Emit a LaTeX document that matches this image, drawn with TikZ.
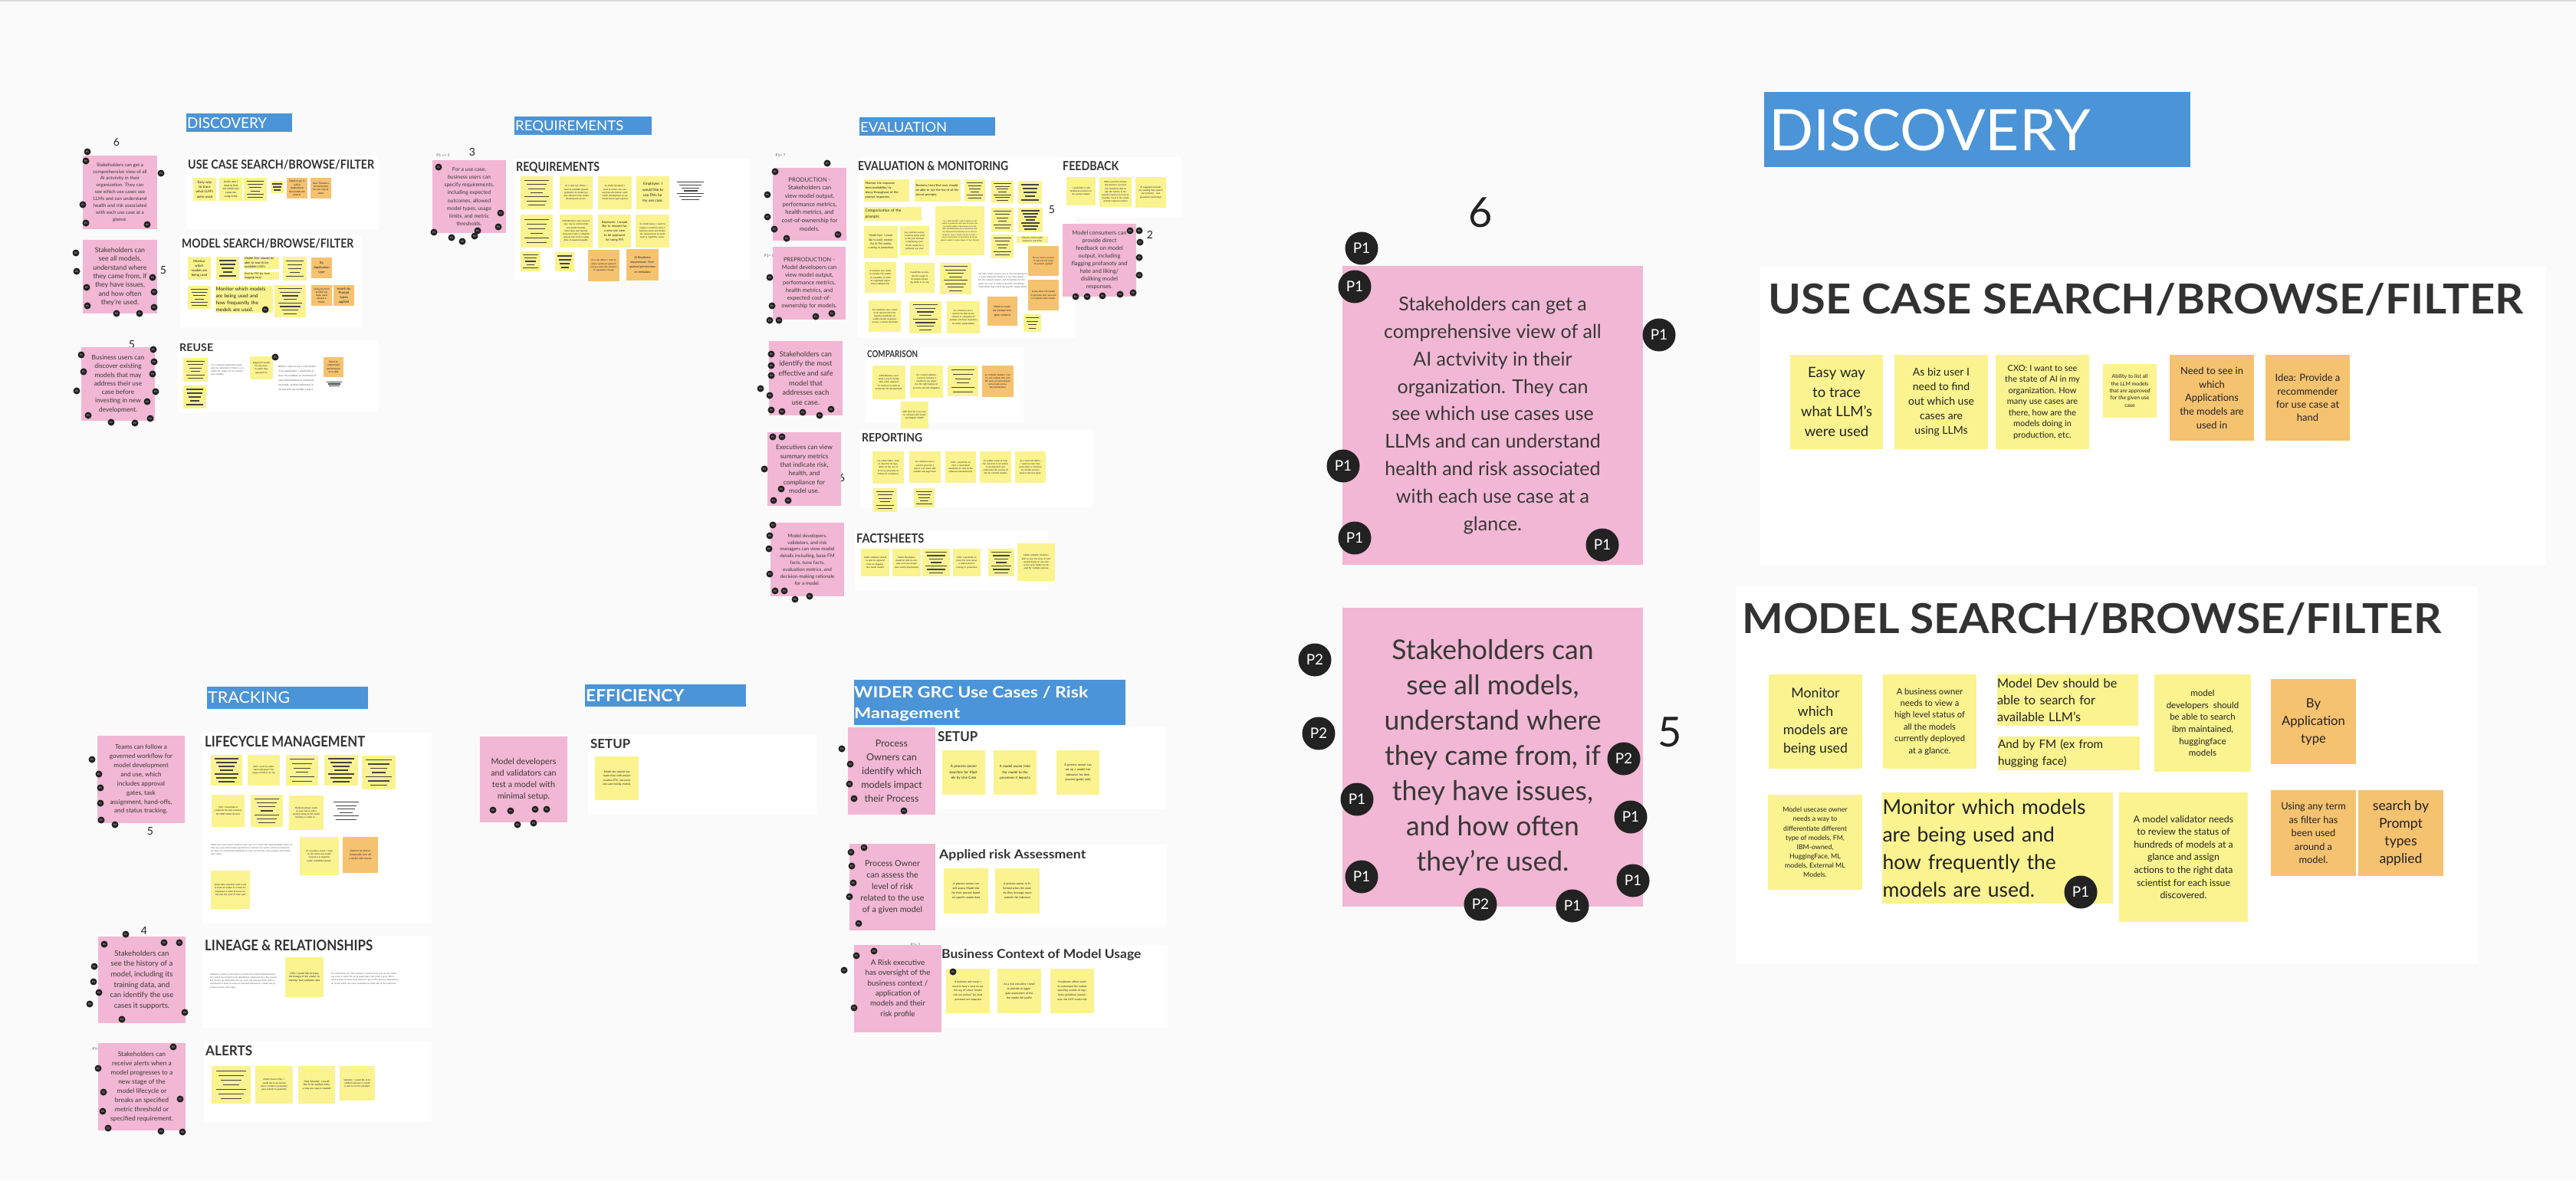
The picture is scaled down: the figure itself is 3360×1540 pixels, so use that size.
\documentclass[tikz,border=0pt]{standalone}
\usepackage{fontspec}
\setmainfont{Lato}
\usepackage{graphicx}

\definecolor{board}{RGB}{250,250,250}
\definecolor{hdrblue}{RGB}{75,148,215}
\definecolor{pinknote}{RGB}{242,183,212}
\definecolor{yelnote}{RGB}{250,243,143}
\definecolor{orgnote}{RGB}{245,194,112}
\definecolor{inkdark}{RGB}{34,34,34}
\definecolor{ttlgray}{RGB}{50,50,50}

\newcommand{\fsz}[2]{\fontsize{#1}{#2}\selectfont}
\newcommand{\ttlbox}[3]{\resizebox{#1pt}{#2pt}{#3}}
% sticky: options, name, x1, y1, x2, y2, text
\newcommand{\stick}[7][stickyY]{%
  \node[minimum width={#5-#3}, minimum height={#6-#4},
        text width={(#5-#3)*0.84}, #1] (#2) at ({(#3+#5)/2},{(#4+#6)/2}) {#7};}
% sticky whose text is only shown as bars
\newcommand{\barnote}[6][stickyY]{%
  \path[#1] (#2,#3) rectangle (#4,#5);
  \foreach \k in {1,...,#6}{%
    \pgfmathsetmacro{\yy}{#3+(#5-#3)*\k/(#6+1)}%
    \pgfmathsetmacro{\ww}{(#4-#2)*(0.2+0.06*mod(\k*3,4))}%
    \draw[barline] ({(#2+#4)/2-\ww},\yy) -- ({(#2+#4)/2+\ww},\yy);}}

\begin{document}
\begin{tikzpicture}[x=1pt,y=-1pt,
  panel/.style={fill=white},
  hdr/.style={fill=hdrblue},
  hdrtxt/.style={anchor=north west,inner sep=0,text=white},
  ttl/.style={anchor=north west,inner sep=0,text=ttlgray},
  nowrap/.style={text width={}},
  pinkN/.style={fill=pinknote,inner sep=0,align=center,text=inkdark!90,nowrap},
  stickyY/.style={fill=yelnote,inner sep=0,align=center,text=inkdark,font=\fsz{2.8}{4.2}},
  stickyO/.style={fill=orgnote,inner sep=0,align=center,text=inkdark,font=\fsz{2.8}{4.2}},
  plainblk/.style={inner sep=0,text=inkdark!75,font=\fsz{2.8}{4.2}},
  barline/.style={line width=1.1,draw=inkdark!85},
  dotL/.style={circle,fill=inkdark,text=white,minimum size=43,inner sep=0,font=\fsz{19}{19}},
  dotS/.style={circle,fill=inkdark,text=white,minimum size=9,inner sep=0,font=\fsz{3}{3}},
  num/.style={inner sep=0,text=inkdark,font=\fsz{14}{14}},
  tag/.style={inner sep=0,text=inkdark!70,font=\fsz{5}{5}}]

\useasboundingbox (0,0) rectangle (3360,1540);
\fill[board] (0,0) rectangle (3360,1540);
\fill[black!14] (0,0) rectangle (3360,2);

%%% ---------- overview: DISCOVERY
\fill[hdr] (243,148) rectangle (381,172);
\node[hdrtxt] (hDisc) at (244,153) {\ttlbox{104}{14}{DISCOVERY}};
\node[num] (nDisc6) at (152,186) {6};
\node[num] (nDisc5) at (213,353) {5};
\node[num] (nReuse5) at (172,450) {5};

\fill[panel] (243,203) rectangle (494,299);
\fill[panel] (235,307) rectangle (472,427);
\fill[panel] (232,443) rectangle (494,538);
\node[ttl] (tUcS) at (245,208) {\ttlbox{243}{12}{\bfseries USE CASE SEARCH/BROWSE/FILTER}};
\node[ttl] (tMsS) at (237,311) {\ttlbox{224}{12}{\bfseries MODEL SEARCH/BROWSE/FILTER}};
\node[ttl] (tReuse) at (234,448) {\ttlbox{44}{10}{\bfseries REUSE}};

\stick[pinkN,font=\fsz{6.2}{8.9}]{ovDisc}{108}{203}{205}{299}{Stakeholders can get a\\ comprehensive view of all\\ AI actvivity in their\\ organization. They can\\ see which use cases use\\ LLMs and can understand\\ health and risk associated\\ with each use case at a\\ glance.}
\stick[pinkN,font=\fsz{8.8}{11.3}]{ovModels}{108}{313}{205}{409}{Stakeholders can\\ see all models,\\ understand where\\ they came from, if\\ they have issues,\\ and how often\\ they're used.}
\stick[pinkN,font=\fsz{8.4}{11.3}]{ovReuse}{106}{453}{202}{549}{Business users can\\ discover existing\\ models that may\\ address their use\\ case before\\ investing in new\\ development.}

\stick[stickyY,nowrap,font=\fsz{4.5}{6.3}]{ovEasy}{252}{232}{282}{262}{Easy way\\ to trace\\ what LLM's\\ were used}
\stick[stickyY,nowrap,font=\fsz{3.4}{4.7}]{ovBiz}{286}{232}{316}{262}{As biz user I\\ need to find\\ out which use\\ cases are\\ using LLMs}
\barnote{318}{232}{348}{262}{6}
\barnote{353}{236}{370}{252}{3}
\stick[stickyO,nowrap,font=\fsz{3.2}{4.4}]{ovApps}{374}{232}{401}{259}{Need to see in\\ which\\ Applications\\ the models are\\ used in}
\stick[stickyO,nowrap,font=\fsz{3.2}{4.3}]{ovIdea}{405}{232}{432}{259}{Idea: Provide a\\ recommender\\ for use case at\\ hand}

\stick[stickyY,nowrap,font=\fsz{4.3}{5.9}]{ovMon}{245}{335}{275}{365}{Monitor\\ which\\ models are\\ being used}
\barnote{282}{335}{312}{365}{5}
\stick[stickyY,font=\fsz{4}{5.5},align=left,text width=44]{ovDev}{318}{335}{364}{351}{Model Dev should be\\ able to search for\\ available LLM's}
\stick[stickyY,font=\fsz{3.7}{5.5},align=left,text width=44]{ovFM}{318}{355}{364}{365}{And by FM (ex from\\ hugging face)}
\barnote{369}{335}{400}{366}{5}
\stick[stickyO,nowrap,font=\fsz{4.1}{5.7}]{ovApp}{406}{336}{433}{363}{By\\ Application\\ type}
\barnote{245}{373}{275}{403}{6}
\stick[stickyY,font=\fsz{6.5}{8.8},align=left,text width=74]{ovFreq}{281}{373}{356}{408}{Monitor which models\\ are being used and\\ how frequently the\\ models are used.}
\barnote{358}{372}{399}{414}{8}
\stick[stickyO,nowrap,font=\fsz{3.1}{4.3}]{ovTerm}{406}{372}{433}{399}{Using any term\\ as filter has\\ been used\\ around a\\ model.}
\stick[stickyO,nowrap,font=\fsz{4.3}{5.7}]{ovPrompt}{435}{372}{462}{399}{search by\\ Prompt\\ types\\ applied}

\barnote{239}{467}{271}{498}{6}
\barnote{239}{503}{269}{533}{5}
\stick[plainblk,align=left,text width=45]{ovReuseTxt}{275}{465}{320}{500}{I as a business application owner want to understand if there is a re-usable ML model for my business area available.}
\stick[stickyY]{ovSugg}{326}{465}{356}{495}{Suggested models for the users, in which they approved for}
\stick[plainblk,font=\fsz{3.2}{6},align=left,text width=50]{ovFeedTxt}{363}{464}{413}{523}{Before I start to use a LLM model in my application, I would like to view the feedback or sentiment of users (documented as comments on model/ prompt responses) in my org who are already using it}
\stick[stickyO,font=\fsz{3.2}{4.4}]{ovPerf}{422}{466}{448}{492}{Need to understand performance of a LLM}
\barnote[plainblk]{423}{496}{449}{506}{3}

\foreach \x/\y/\t [count=\i] in {114/198/P1,112/210/P1,210/226/P1,108/267/P1,112/291/P1,192/293/P1,
  99/330/P2,100/354/P2,199/362/P2,113/375/P1,201/381/P1,114/399/P1,201/401/P1,152/409/P2,182/409/P1,346/404/P1,
  200/456/P1,106/463/P1,201/472/P1,109/485/P1,199/488/P2,100/510/P2,203/511/P2,192/524/P2,115/542/P1,
  145/551/P1,176/552/P2,196/546/P2,359/466/P1}
  \node[dotS] (dDisc\i) at (\x,\y) {\t};

%%% ---------- overview: REQUIREMENTS
\fill[hdr] (671,152) rectangle (850,176);
\node[hdrtxt] (hReq) at (672,157) {\ttlbox{141}{13}{REQUIREMENTS}};
\node[num] (nReq3) at (616,198) {3};
\node[tag] (gReq) at (578,203) {P1 += 3};
\fill[panel] (671,207) rectangle (977,365);
\node[ttl] (tReq) at (673,211) {\ttlbox{109}{12}{\bfseries REQUIREMENTS}};
\stick[pinkN,font=\fsz{6.9}{10.1}]{reqPink}{564}{209}{660}{304}{For a use case,\\ business users can\\ specify requirements,\\ including expected\\ outcomes, allowed\\ model types, usage\\ limits, and metric\\ thresholds.}
\barnote{679}{230}{721}{273}{7}
\stick{reqCro}{730}{230}{773}{273}{As a chief risk officer, I want to establish general guidelines for model use that influence how model development occurs.}
\stick{reqDev}{780}{230}{824}{273}{As model developer I need to review use case requirements before I start model development so my model doesn't get rejected}
\stick[stickyY,nowrap,font=\fsz{4.8}{7.4}]{reqEmp}{830}{230}{873}{273}{Employee: I\\ would like to\\ use FMs for\\ my use case.}
\barnote[plainblk]{878}{234}{923}{264}{7}
\barnote{679}{280}{721}{323}{6}
\stick{reqCxo}{730}{280}{773}{323}{CXO/Business users need an easy way to communicate new model development tasks and improve turnaround with a validation process that work is being done to expected quality.}
\stick[stickyY,font=\fsz{4}{5.8}]{reqNew}{780}{280}{823}{323}{Employee: I would like to request for a new use case to be approved for using FM}
\stick{reqOwn}{829}{280}{873}{323}{As model owner, I want to request a model to solve a business needs and dictate the requirements to avoid legal or regulatory issues.}
\barnote{679}{328}{705}{354}{5}
\barnote{724}{329}{749}{354}{4}
\stick[stickyO]{reqRisk}{767}{326}{808}{367}{As a risk officer, I need to assess quickly to approval process when the situation or regulations change.}
\stick[stickyO,font=\fsz{3.8}{6.2}]{reqReady}{817}{325}{859}{366}{AI Readiness requirement: Fine-grained permissions on metadata}
\foreach \x/\y/\t [count=\i] in {572/218/P1,653/278/P2,650/296/P2,566/303/P1,589/310/P2,603/315/P2,619/308/P2,623/301/P1}
  \node[dotS] (dReq\i) at (\x,\y) {\t};

%%% ---------- overview: EVALUATION
\fill[hdr] (1121,153) rectangle (1298,177);
\node[hdrtxt] (hEval) at (1122,159) {\ttlbox{113}{13}{EVALUATION}};
\fill[panel] (1118,206) rectangle (1402,441);
\fill[panel] (1383,205) rectangle (1542,284);
\fill[panel] (1129,453) rectangle (1335,551);
\fill[panel] (1122,561) rectangle (1425,662);
\fill[panel] (1115,692) rectangle (1367,770);
\node[ttl] (tEm) at (1119,210) {\ttlbox{196}{12}{\bfseries EVALUATION \& MONITORING}};
\node[ttl] (tFb) at (1386,210) {\ttlbox{73}{12}{\bfseries FEEDBACK}};
\node[ttl] (tCmp) at (1131,457) {\ttlbox{66}{9}{\bfseries COMPARISON}};
\node[ttl] (tRep) at (1124,565) {\ttlbox{79}{11}{\bfseries REPORTING}};
\node[ttl] (tFs) at (1117,696) {\ttlbox{88}{12}{\bfseries FACTSHEETS}};

\node[tag] (gProd) at (1018,203) {P1= 7};
\node[tag] (gPre) at (1003,334) {P1= 6};
\node[tag] (gFb) at (1451,295) {P1= 2};
\node[tag] (gCmp) at (1088,448) {P1= 5};
\node[tag] (gFs) at (1093,687) {P1= 7};
\node[num] (nEm5) at (1372,274) {5};
\node[num] (nFb2) at (1500,306) {2};
\node[num] (nRep6) at (1098,624) {6};

\stick[pinkN,font=\fsz{7.6}{10.7}]{evProd}{1008}{219}{1104}{314}{PRODUCTION -\\ Stakeholders can\\ view model output,\\ performance metrics,\\ health metrics, and\\ cost-of-ownership for\\ models.}
\stick[pinkN,font=\fsz{7.4}{10}]{evPre}{1008}{322}{1103}{417}{PREPRODUCTION -\\ Model developers can\\ view model output,\\ performance metrics,\\ health metrics, and\\ expected cost-of-\\ ownership for models.}
\stick[pinkN,font=\fsz{7.4}{10.1}]{fbPink}{1386}{292}{1482}{387}{Model consumers can\\ provide direct\\ feedback on model\\ output, including\\ flagging profanoty and\\ hate and liking/\\ disliking model\\ responses.}
\stick[pinkN,font=\fsz{9.2}{12.6}]{cmpPink}{1003}{445}{1099}{542}{Stakeholders can\\ identify the most\\ effective and safe\\ model that\\ addresses each\\ use case.}
\stick[pinkN,font=\fsz{8.4}{11.3}]{repPink}{1001}{564}{1097}{660}{Executives can view\\ summary metrics\\ that indicate risk,\\ health, and\\ compliance for\\ model use.}
\stick[pinkN,font=\fsz{6.3}{8.9}]{fsPink}{1005}{682}{1101}{778}{Model developers,\\ validators, and risk\\ managers can view model\\ details including, base FM\\ facts, tune facts,\\ evaluation metrics, and\\ decision-making rationale\\ for a model.}

\stick[stickyY,font=\fsz{4}{5.8},align=left,text width=56]{emResp}{1127}{234}{1186}{263}{Monitor the response time/availability/ latency/throughput of the prompt responses.}
\stick[stickyY,font=\fsz{4}{5.8},align=left,text width=57]{emHist}{1193}{234}{1253}{263}{Business User/End user should be able to see the list of all historical prompts.}
\barnote{1258}{234}{1285}{263}{6}
\barnote{1293}{236}{1322}{265}{7}
\barnote{1328}{236}{1359}{266}{5}
\stick[stickyY,font=\fsz{5}{7.5},align=left,text width=72]{emCat}{1127}{270}{1202}{288}{Categorisation of the\\ prompts}
\stick[stickyY,font=\fsz{2.3}{3.6}]{emDs}{1220}{269}{1284}{333}{I as a Data Scientist, need to deploy an ML model to production and need to ensure that the model quality is maintained across the DEV-QA-PROD lifecycle as mentioned with the deployed AI horizontally across all environments. Since I need to do this at scale - I need a central place to benchmark all my deployed models at various stages of their lifecycle}
\barnote{1293}{271}{1322}{302}{6}
\barnote{1328}{271}{1360}{303}{7}
\stick[stickyY,font=\fsz{3.4}{5.3}]{emOps}{1127}{295}{1171}{337}{Model Ops: I would like to easily monitor the AI FM models running in production}
\stick{emCost}{1174}{295}{1212}{333}{As a business owner, I need to know what is the cost involved in deploying a particular model for a particular use case.}
\barnote{1293}{306}{1322}{337}{6}
\stick[stickyY,font=\fsz{3}{4}]{emLive}{1326}{308}{1367}{317}{Monitor LLM model output in real-time}
\stick[plainblk,font=\fsz{2.9}{4.3},align=left,text width=64]{emMlops}{1276}{347}{1341}{385}{ML Ops needs an easy way to set monitoring for a newly deployed model in a way that checks for the relevant metrics and thresholds for the given use case in order to provide monitoring information that meets the specific requirements.}
\stick[stickyO]{emAppr}{1341}{321}{1381}{360}{Do we need a process to approve the types of prompts applied?}
\stick{emScale}{1128}{342}{1169}{382}{A business user needs to monitor FM models at a quantity as order of magnitude higher than traditional ML.}
\stick{emUsage}{1180}{343}{1219}{382}{I would like to monitor the usage of AI models (including LLMs) in my org}
\barnote{1226}{343}{1267}{384}{8}
\stick[stickyO]{emGen}{1341}{365}{1381}{405}{Invoke other FM models to generate test cases and to evaluate other models}
\stick{emAlert}{1133}{392}{1175}{433}{As a business user, I need to be alerted when the negative feedbacks on model prompt responses crosses a certain threshold}
\barnote{1186}{393}{1228}{435}{8}
\stick{emClus}{1235}{393}{1278}{435}{As a business user, I need to be able to see clusters or categories of prompts and their responses for better explainability}
\stick[stickyO,font=\fsz{3.4}{5.2}]{emTmpl}{1288}{387}{1327}{425}{Need to evaluate prompt template contents}
\barnote{1335}{410}{1358}{433}{4}

\stick{fbAdd}{1391}{231}{1429}{268}{I would like to add feedback/comment on the prompt output.}
\stick{fbRate}{1434}{231}{1476}{270}{When used the prompt, the business user/end user should be able to rate the toxicity in the prompt response (as best as possible, if not in the whole prompt response output)}
\stick{fbSugg}{1481}{231}{1521}{271}{AI suggested prompts for avoiding hate speech and profanity - auto generated monitoring?}

\stick{cmpCxo}{1138}{477}{1181}{521}{CXO/Business users need a way to decide with which approach to continue in order to accelerate ML development.}
\stick{cmpVal}{1187}{477}{1230}{519}{As a model validator, I want to compare 2 models to see which has the right balance of accuracy and risk mitigation.}
\barnote{1236}{477}{1276}{517}{6}
\stick[stickyO]{cmpFm}{1281}{477}{1322}{518}{As a Model Validator I can try out multiple FMs with the same prompt/template and provide evaluation distributions}
\stick{cmpReg}{1175}{524}{1211}{559}{Will there be a use case to compare LLM model and Regular Model?}

\stick{repAi}{1138}{589}{1179}{631}{I as a Risk Office, need to report to AI regulation on fair use of AI in my enterprise to achieve AI compliance.}
\stick{repBiz}{1186}{589}{1227}{630}{As a business user, I want to generate a report I can share with auditors and legal team.}
\stick{repCxo}{1233}{589}{1273}{630}{CXO: I would like to have a customized dashboard to view all the collected metadata/facts}
\stick{repAud}{1278}{589}{1319}{630}{As auditor needs to view the risk level of all models in development and understand the sources of risk for selected models.}
\stick{repCro}{1324}{589}{1364}{630}{As a chief risk officer, I need to know how many alerts or breaches my models encountered in the last week.}
\barnote{1139}{637}{1170}{668}{6}
\barnote{1192}{637}{1219}{662}{5}

\stick{fsHf}{1123}{716}{1160}{752}{model validators should be able to captured facts for huggingface based models}
\stick{fsDt}{1164}{716}{1201}{752}{Model Developers should be able to compute and save design time metrics (Factsheets)}
\barnote{1203}{716}{1239}{752}{7}
\stick{fsCxo}{1243}{716}{1279}{752}{CXO: I would like to know the facts about a model which is running in production}
\barnote{1289}{716}{1323}{752}{7}
\stick{fsLlm}{1327}{709}{1376}{758}{Model validator should be able to view the facts of LLM models based on use case as the same model can be used for multiple purpose}

\foreach \x/\y/\t [count=\i] in {1079/213/P1,1011/224/P1,1001/254/P1,1001/283/P1,1010/299/P1,1093/306/P2,1026/311/P1,
  1004/362/P1,1007/399/P1,1004/418/P1,1016/418/P1,1064/413/P1,1085/409/P1,
  1474/301/P1,1486/301/P2,1487/316/P1,1486/336/P1,1486/359/P2,1478/382/P2,1461/384/P2,1438/386/P1,1418/387/P2,1403/387/P2,
  1006/462/P1,1006/477/P1,1006/490/P2,992/507/P2,1004/516/P2,1006/535/P1,1020/537/P2,1047/538/P2,1069/542/P1,1084/534/P1,
  1008/570/P1,1020/570/P1,997/612/P1,1019/638/P1,1009/653/P1,1028/653/P1,
  1008/685/P1,1004/699/P1,1003/716/P1,1004/749/P2,1011/771/P1,1023/771/P1,1037/782/P1,1056/778/P1}
  \node[dotS] (dEval\i) at (\x,\y) {\t};

%%% ---------- overview: TRACKING
\fill[hdr] (270,896) rectangle (480,925);
\node[hdrtxt] (hTrack) at (271,902) {\ttlbox{107}{15}{TRACKING}};
\fill[panel] (264,956) rectangle (563,1205);
\fill[panel] (264,1221) rectangle (563,1342);
\fill[panel] (266,1359) rectangle (563,1464);
\node[ttl] (tLc) at (267,960) {\ttlbox{209}{14}{\bfseries LIFECYCLE MANAGEMENT}};
\node[ttl] (tLn) at (267,1226) {\ttlbox{219}{14}{\bfseries LINEAGE \& RELATIONSHIPS}};
\node[ttl] (tAl) at (268,1364) {\ttlbox{61}{13}{\bfseries ALERTS}};
\node[num] (nLc5) at (196,1085) {5};
\node[num] (nLn4) at (188,1214) {4};
\node[tag] (gAl) at (127,1369) {P1= 1};

\stick[pinkN,font=\fsz{8.2}{11.9}]{lcPink}{127}{960}{241}{1074}{Teams can follow a\\ governed workflow for\\ model development\\ and use, which\\ includes approval\\ gates, task\\ assignment, hand-offs,\\ and status tracking.}
\stick[pinkN,font=\fsz{9.6}{13.6}]{lnPink}{128}{1222}{242}{1335}{Stakeholders can\\ see the history of a\\ model, including its\\ training data, and\\ can identify the use\\ cases it supports.}
\stick[pinkN,font=\fsz{8.4}{12}]{alPink}{128}{1361}{242}{1475}{Stakeholders can\\ receive alerts when a\\ model progresses to a\\ new stage of the\\ model lifecycle or\\ breaks an specified\\ metric threshold or\\ specified requirement.}

\barnote{275}{985}{316}{1025}{7}
\stick{lcGov}{323}{985}{365}{1025}{CXO: I want to understand and govern the usage of FMs in my org}
\barnote{373}{985}{415}{1025}{6}
\barnote{423}{985}{467}{1025}{7}
\barnote{472}{986}{516}{1030}{7}
\stick{lcMrm}{276}{1037}{319}{1079}{CXO: I would like to customize the best practices for MRM Model lifecycle}
\barnote{327}{1037}{369}{1079}{7}
\stick{lcPrompt}{377}{1038}{422}{1083}{Model developer needs an easy way to add a prompt tuning to the model inventory in order to ...}
\barnote[plainblk]{430}{1042}{473}{1074}{6}
\stick[plainblk,align=left,text width=106]{lcStatus}{275}{1090}{381}{1127}{Model use case owners needs an easy way to to check the implementation status of their use case (what model approaches \& versions are used in which environment, are there any monitoring violations) in order to track life cycle progress and compliance status.}
\stick{lcRel}{391}{1092}{442}{1142}{As a business owner, I want to see where any model request is in regard to public availability/release.}
\stick[stickyO,font=\fsz{3.2}{4.6}]{lcOff}{447}{1092}{493}{1139}{Need to be able to temporarily turn off a model, and resume}
\stick{lcSenior}{275}{1136}{326}{1186}{Senior data scientists need a way to track all models in current development in order to keep control over the work of their staff}

\stick[plainblk,align=left,text width=88]{lnHist}{274}{1251}{362}{1309}{Validators needs an easy way to see the full model development history (what was trained, tried, abandoned, continued, etc.), the current key metrics (as defined by the use case) and compare them with requirements in order to make an informed decision if a model can go to the next life cycle stage}
\stick[stickyY,font=\fsz{3.2}{4.6}]{lnCxo}{372}{1249}{422}{1301}{CXO: I would like to know the lineage of the model, its training/ test/validation data}
\stick[plainblk,align=left,text width=88]{lnFm}{432}{1251}{520}{1303}{As a FM Owner (or CxO member) I need an easy way see for which use cases in which life cycle stages (dev, test, prod) a given FM is used in order to know how relevant a given FM (who has dependency on it) and which use cases contribute to what part of the load/cost.}

\barnote{276}{1391}{327}{1440}{7}
\stick{alOps}{333}{1391}{382}{1440}{Model Owners/Ops: I would like to be alerted when a model in production goes outside its guardrails}
\stick[stickyY,font=\fsz{3.2}{4.6}]{alDs}{389}{1391}{437}{1440}{Data Scientist: I would like to be notified when a new use case is created}
\stick{alVal}{443}{1391}{489}{1436}{Validator: I would like to be notified whenever a model is sent to me for validation}

\foreach \x/\y/\t [count=\i] in {120/991/P1,129/1010/P1,131/1028/P1,131/1048/P1,132/1070/P1,150/1076/P2,164/1219/P1,
  136/1232/P1,214/1230/P2,234/1230/P2,123/1261/P1,122/1281/P2,129/1295/P1,117/1310/P2,241/1321/P2,159/1330/P2,
  226/1366/P2,128/1394/P1,135/1425/P2,235/1434/P2,134/1450/P2,141/1472/P2,210/1476/P2,238/1477/P2}
  \node[dotS] (dTrack\i) at (\x,\y) {\t};

%%% ---------- overview: EFFICIENCY
\fill[hdr] (763,893) rectangle (973,922);
\node[hdrtxt] (hEff) at (764,899) {\ttlbox{128}{16}{\bfseries EFFICIENCY}};
\fill[panel] (767,958) rectangle (1065,1063);
\node[ttl] (tEff) at (770,964) {\ttlbox{52}{12}{\bfseries SETUP}};
\node[tag] (gEff) at (725,973) {P1= 6};
\stick[pinkN,font=\fsz{10.8}{14.8}]{efPink}{626}{961}{740}{1073}{Model developers\\ and validators can\\ test a model with\\ minimal setup.}
\stick[stickyY,font=\fsz{3.4}{5.3}]{efDev}{776}{987}{833}{1044}{Model dev should not waste time with project creation ETC, just jump into and testing models}
\foreach \x/\y/\t [count=\i] in {643/1057/P2,666/1058/P1,698/1056/P2,713/1056/P1,675/1076/P2,696/1074/P1}
  \node[dotS] (dEff\i) at (\x,\y) {\t};

%%% ---------- overview: WIDER GRC
\fill[hdr] (1114,887) rectangle (1468,946);
\node[hdrtxt] (hGrc1) at (1114,895) {\ttlbox{305}{15}{\bfseries WIDER GRC Use Cases / Risk}};
\node[hdrtxt] (hGrc2) at (1114,923) {\ttlbox{138}{14}{\bfseries Management}};
\fill[panel] (1220,948) rectangle (1519,1056);
\fill[panel] (1220,1102) rectangle (1522,1210);
\fill[panel] (1225,1233) rectangle (1523,1341);
\node[ttl] (tGrc) at (1223,954) {\ttlbox{52}{13}{\bfseries SETUP}};
\node[ttl] (tAr) at (1225,1108) {\ttlbox{191}{12}{\bfseries Applied risk Assessment}};
\node[ttl] (tBc) at (1228,1238) {\ttlbox{260}{12}{\bfseries Business Context of Model Usage}};
\node[tag] (gGrc) at (1123,961) {P1= 0};
\node[tag] (gAr) at (1170,1106) {P1= 6};
\node[tag] (gBc) at (1194,1233) {P1= 3};

\stick[pinkN,font=\fsz{12.5}{18}]{grcPink}{1106}{949}{1220}{1063}{Process\\ Owners can\\ identify which\\ models impact\\ their Process}
\stick[pinkN,font=\fsz{10.8}{15}]{arPink}{1108}{1101}{1220}{1214}{Process Owner\\ can assess the\\ level of risk\\ related to the use\\ of a given model}
\stick[pinkN,font=\fsz{9.8}{13.3}]{bcPink}{1114}{1233}{1228}{1347}{A Risk executive\\ has oversight of the\\ business context /\\ application of\\ models and their\\ risk profile}

\stick[stickyY,font=\fsz{4.6}{7.5}]{grcSearch}{1229}{979}{1285}{1037}{A process owner searches for Models by Use Case}
\stick[stickyY,font=\fsz{4.4}{7.3}]{grcLink}{1296}{979}{1352}{1037}{A model owner links the model to the processes it impacts}
\stick[stickyY,font=\fsz{3.8}{6.2}]{grcTol}{1378}{979}{1434}{1037}{A process owner can set up a model risk tolerance for their process (guide rails)}
\stick[stickyY,font=\fsz{3.6}{6}]{arSelf}{1231}{1133}{1289}{1192}{A process owner can self assess Model risk for their process based on specific model data}
\stick[stickyY,font=\fsz{3.6}{6}]{arInf}{1298}{1133}{1356}{1192}{A process owner is informed when the models they leverage move outside risk tolerance}
\stick[stickyY,font=\fsz{3.3}{5.6}]{bcUnit}{1234}{1264}{1291}{1322}{A business unit owner I need to have a view across the org of where ``model risk can surface'' (ie) what processes are impacted}
\stick[stickyY,font=\fsz{3.5}{6}]{bcExec}{1301}{1264}{1358}{1322}{As a risk executive I need to provide an aggregate assessment of the the model risk profile}
\stick[stickyY,font=\fsz{3.3}{5.6}]{bcComp}{1370}{1264}{1427}{1322}{Compliance officer needs to understand the models operating outside of regulatory guidelines (compliance risk NOT model risk)}
\foreach \x/\y/\t [count=\i] in {1098/977/P2,1109/997/P2,1108/1023/P2,1114/1042/P2,1179/1058/P2,
  1127/1106/P1,1110/1112/P1,1111/1130/P1,1113/1152/P1,1108/1170/P1,1120/1205/P1,
  1140/1241/P2,1117/1247/P1,1101/1266/P1,1114/1315/P1,1243/1268/P1}
  \node[dotS] (dGrc\i) at (\x,\y) {\t};

%%% ---------- zoomed DISCOVERY detail
\fill[hdr] (2301,120) rectangle (2857,218);
\node[hdrtxt] (hBig) at (2307,142) {\ttlbox{420}{54}{DISCOVERY}};
\node[num,font=\fsz{54}{54}] (nBig6) at (1931,277) {6};
\node[num,font=\fsz{54}{54}] (nBig5) at (2178,955) {5};

\stick[pinkN,font=\fsz{25}{35.8}]{pkDisc}{1751}{347}{2143}{737}{Stakeholders can get a\\ comprehensive view of all\\ AI actvivity in their\\ organization. They can\\ see which use cases use\\ LLMs and can understand\\ health and risk associated\\ with each use case at a\\ glance.}
\stick[pinkN,font=\fsz{35.5}{46}]{pkModel}{1751}{793}{2143}{1183}{Stakeholders can\\ see all models,\\ understand where\\ they came from, if\\ they have issues,\\ and how often\\ they're used.}

\fill[panel] (2296,347) rectangle (3321,738);
\node[ttl] (tUcB) at (2306,369) {\ttlbox{985}{40}{\bfseries USE CASE SEARCH/BROWSE/FILTER}};
\stick[stickyY,nowrap,font=\fsz{18.5}{25.5}]{ucEasy}{2335}{463}{2456}{586}{Easy way\\ to trace\\ what LLM's\\ were used}
\stick[stickyY,nowrap,font=\fsz{14}{19}]{ucBiz}{2471}{463}{2593}{586}{As biz user I\\ need to find\\ out which use\\ cases are\\ using LLMs}
\stick[stickyY,nowrap,font=\fsz{11}{14.5}]{ucCxo}{2603}{463}{2725}{586}{CXO: I want to see\\ the state of AI in my\\ organization. How\\ many use cases are\\ there, how are the\\ models doing in\\ production, etc.}
\stick[stickyY,nowrap,font=\fsz{6.9}{9.3}]{ucAbl}{2743}{475}{2813}{545}{Ability to list all\\ the LLM models\\ that are approved\\ for the given use\\ case}
\stick[stickyO,nowrap,font=\fsz{12.9}{17.7}]{ucApps}{2830}{463}{2940}{575}{Need to see in\\ which\\ Applications\\ the models are\\ used in}
\stick[stickyO,nowrap,font=\fsz{13}{17.3}]{ucIdea}{2955}{463}{3065}{575}{Idea: Provide a\\ recommender\\ for use case at\\ hand}

\fill[panel] (2264,765) rectangle (3232,1258);
\node[ttl] (tMsB) at (2272,786) {\ttlbox{912}{40}{\bfseries MODEL SEARCH/BROWSE/FILTER}};
\stick[stickyY,nowrap,font=\fsz{17.7}{24}]{msMon}{2307}{880}{2429}{1003}{Monitor\\ which\\ models are\\ being used}
\stick[stickyY,nowrap,font=\fsz{11.2}{15.4}]{msBiz}{2456}{880}{2578}{1003}{A business owner\\ needs to view a\\ high level status of\\ all the models\\ currently deployed\\ at a glance.}
\stick[stickyY,font=\fsz{16.3}{22.4},align=left,text width=184]{msDev}{2605}{880}{2789}{947}{Model Dev should be\\ able to search for\\ available LLM's}
\stick[stickyY,font=\fsz{15.2}{22.4},align=left,text width=185]{msFM}{2606}{961}{2791}{1005}{And by FM (ex from\\ hugging face)}
\stick[stickyY,nowrap,font=\fsz{11.5}{15.6}]{msIbm}{2810}{880}{2936}{1007}{model\\ developers\ \ should\\ be able to search\\ ibm maintained,\\ huggingface\\ models}
\stick[stickyO,nowrap,font=\fsz{16.6}{23}]{msApp}{2962}{886}{3073}{997}{By\\ Application\\ type}
\stick[stickyY,nowrap,font=\fsz{8.8}{12.1}]{msUse}{2306}{1037}{2429}{1161}{Model usecase owner\\ needs a way to\\ differentiate different\\ type of models, FM,\\ IBM-owned,\\ HuggingFace, ML\\ models, External ML\\ Models.}
\stick[stickyY,font=\fsz{26.5}{36},align=left,text width=300]{msFreq}{2455}{1034}{2756}{1179}{Monitor which models\\ are being used and\\ how frequently the\\ models are used.}
\stick[stickyY,nowrap,font=\fsz{12.3}{16.6}]{msVal}{2764}{1034}{2932}{1203}{A model validator needs\\ to review the status of\\ hundreds of models at a\\ glance and assign\\ actions to the right data\\ scientist for each issue\\ discovered.}
\stick[stickyO,nowrap,font=\fsz{12.8}{17.5}]{msTerm}{2962}{1031}{3073}{1143}{Using any term\\ as filter has\\ been used\\ around a\\ model.}
\stick[stickyO,nowrap,font=\fsz{17.6}{23.3}]{msPrompt}{3076}{1031}{3187}{1143}{search by\\ Prompt\\ types\\ applied}

\foreach \x/\y/\t [count=\i] in {1776/324/P1,1767/374/P1,2164/437/P1,1752/608/P1,1767/702/P1,2090/711/P1,
  1715/861/P2,1720/957/P2,2118/990/P2,1770/1043/P1,2127/1066/P1,1776/1144/P1,2130/1149/P1,1931/1180/P2,2051/1182/P1,
  2714/1164/P1}
  \node[dotL] (dBig\i) at (\x,\y) {\t};

\end{tikzpicture}
\end{document}
